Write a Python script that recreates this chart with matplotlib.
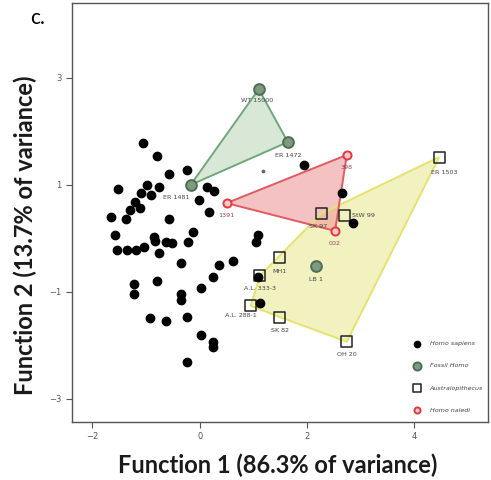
"""Discriminant function plot: femur shape scores for Homo sapiens, fossil Homo, Australopithecus and Homo naledi."""
import matplotlib

matplotlib.use("Agg")
import matplotlib.pyplot as plt
import numpy as np

##########################
## Data

sapiens_x = [-1.06, -0.80, -0.58, -0.24, -1.53, -0.99, -0.75, -1.10, -0.90, -1.21,
             -1.12, -1.29, -1.66, -1.38, -0.58, -1.57, -0.86, -0.13, 0.13, 0.26,
             -0.02, 0.17, 1.94, 2.65, 2.85, -1.55, -1.36, -1.18, -1.04, -0.84,
             -0.62, -0.52, -0.22, -0.75, -0.34, -1.23, -0.80, -1.23, -0.34, -0.34,
             0.02, -0.93, -0.62, -0.24, 0.02, 0.24, 0.24, -0.24, 1.08, 1.04,
             0.35, 0.62, 0.24, 1.08, 1.12]
sapiens_y = [1.79, 1.54, 1.21, 1.28, 0.93, 1.00, 0.96, 0.85, 0.81, 0.68,
             0.57, 0.53, 0.40, 0.36, 0.36, 0.07, 0.03, 0.12, 0.96, 0.89,
             0.72, 0.50, 1.37, 0.85, 0.29, -0.21, -0.21, -0.21, -0.16, -0.05,
             -0.07, -0.08, -0.07, -0.27, -0.46, -0.85, -0.80, -1.03, -1.03, -1.15,
             -0.93, -1.49, -1.54, -1.47, -1.80, -1.93, -2.03, -2.31, 0.07, -0.07,
             -0.50, -0.42, -0.72, -0.72, -1.21]

fossil_names = ["WT 15000", "ER 1472", "ER 1481", "LB 1"]
fossil_x = [1.10, 1.64, -0.17, 2.16]
fossil_y = [2.79, 1.80, 1.00, -0.51]

austr_names = ["ER 1503", "SK 97", "StW 99", "MH1", "A.L. 333-3", "A.L. 288-1", "SK 82", "OH 20"]
austr_x = [4.46, 2.26, 2.69, 1.49, 1.12, 0.95, 1.49, 2.74]
austr_y = [1.52, 0.46, 0.42, -0.35, -0.70, -1.26, -1.47, -1.93]

naledi_names = ["1391", "398", "002"]
naledi_x = [0.50, 2.74, 2.52]
naledi_y = [0.66, 1.56, 0.14]

centroid_x = [1.17]
centroid_y = [1.26]

# label offsets in points (dx, dy)
offsets = {
    "WT 15000": (-1, -8), "ER 1472": (0, -10), "ER 1481": (-10, -9), "LB 1": (0, -10),
    "ER 1503": (4, -11), "SK 97": (-2, -9), "StW 99": (14, 0), "MH1": (0, -10),
    "A.L. 333-3": (0, -9), "A.L. 288-1": (-7, -7), "SK 82": (0, -10), "OH 20": (0, -9),
    "1391": (0, -9), "398": (0, -9), "002": (0, -9),
}


def hull(xs, ys):
    pts = sorted(zip(xs, ys))

    def cross(o, a, b):
        return (a[0] - o[0]) * (b[1] - o[1]) - (a[1] - o[1]) * (b[0] - o[0])

    lower, upper = [], []
    for p in pts:
        while len(lower) >= 2 and cross(lower[-2], lower[-1], p) <= 0:
            lower.pop()
        lower.append(p)
    for p in reversed(pts):
        while len(upper) >= 2 and cross(upper[-2], upper[-1], p) <= 0:
            upper.pop()
        upper.append(p)
    return np.array(lower[:-1] + upper[:-1])


fig = plt.figure(figsize=(4.91, 4.80), dpi=100)
ax = fig.add_axes([0.1466, 0.121, 0.8473, 0.8728])

# group hulls
h_a = hull(austr_x, austr_y)
ax.fill(h_a[:, 0], h_a[:, 1], facecolor="#f2f2c0", edgecolor="none", zorder=1)
h = hull(fossil_x[:3], fossil_y[:3])
ax.fill(h[:, 0], h[:, 1], facecolor="#d9e8d6", edgecolor="#6fa77d", lw=1.4, zorder=1)
h = hull(naledi_x, naledi_y)
ax.fill(h[:, 0], h[:, 1], facecolor="#ee9a9a", edgecolor="none", alpha=0.6, zorder=2)
ax.fill(h[:, 0], h[:, 1], facecolor="none", edgecolor="#e05a60", lw=1.4, zorder=2.2)
ax.fill(h_a[:, 0], h_a[:, 1], facecolor="none", edgecolor="#e3e36e", lw=1.4, zorder=2.1)

ax.scatter(sapiens_x, sapiens_y, s=36, c="black", zorder=4, label="Homo sapiens")
ax.scatter(fossil_x, fossil_y, s=60, c="#7f9a80", edgecolors="#4d6e52", linewidths=1.4,
           zorder=4, label="Fossil Homo")
ax.scatter(austr_x, austr_y, s=62, marker="s", facecolors="none", edgecolors="#222222",
           linewidths=1.1, zorder=3, label="Australopithecus")
ax.scatter(naledi_x, naledi_y, s=34, c="#f7c9c9", edgecolors="#e2383f", linewidths=1.4,
           zorder=5, label="Homo naledi")
ax.scatter(centroid_x, centroid_y, s=3, c="#666666", zorder=3)

for names, xs, ys, col in [(fossil_names, fossil_x, fossil_y, "#444444"),
                           (austr_names, austr_x, austr_y, "#444444"),
                           (naledi_names, naledi_x, naledi_y, "#8a4450")]:
    for n, x, y in zip(names, xs, ys):
        ax.annotate(n, (x, y), xytext=offsets[n], textcoords="offset points",
                    ha="center", va="center", fontsize=4.6, color=col, zorder=6)

ax.set_xlim(-2.38, 5.37)
ax.set_ylim(-3.43, 4.40)
ax.set_xticks([-2, 0, 2, 4])
ax.set_yticks([3, 1, -1, -3])
ax.tick_params(labelsize=6, colors="#555555", length=4, width=0.8)
for s in ax.spines.values():
    s.set_color("#555555")
    s.set_linewidth(1.0)

fig.text(0.566, 0.030, "Function 1 (86.3% of variance)", fontsize=17, fontweight="bold",
         family="Lato", color="#1a1a1a", ha="center", va="center")
fig.text(0.051, 0.51, "Function 2 (13.7% of variance)", fontsize=17, fontweight="bold",
         family="Lato", color="#1a1a1a", ha="center", va="center", rotation=90)

leg = ax.legend(loc="lower right", frameon=False, markerscale=0.75,
                handletextpad=1.0, labelspacing=2.6, borderaxespad=0.4,
                bbox_to_anchor=(1.0, 0.01),
                prop={"style": "italic", "size": 4.6})
for t in leg.get_texts():
    t.set_color("#444444")

fig.text(0.077, 0.962, "c.", fontsize=15, family="Lato", ha="center", va="center")

fig.savefig("out.png", dpi=100)
